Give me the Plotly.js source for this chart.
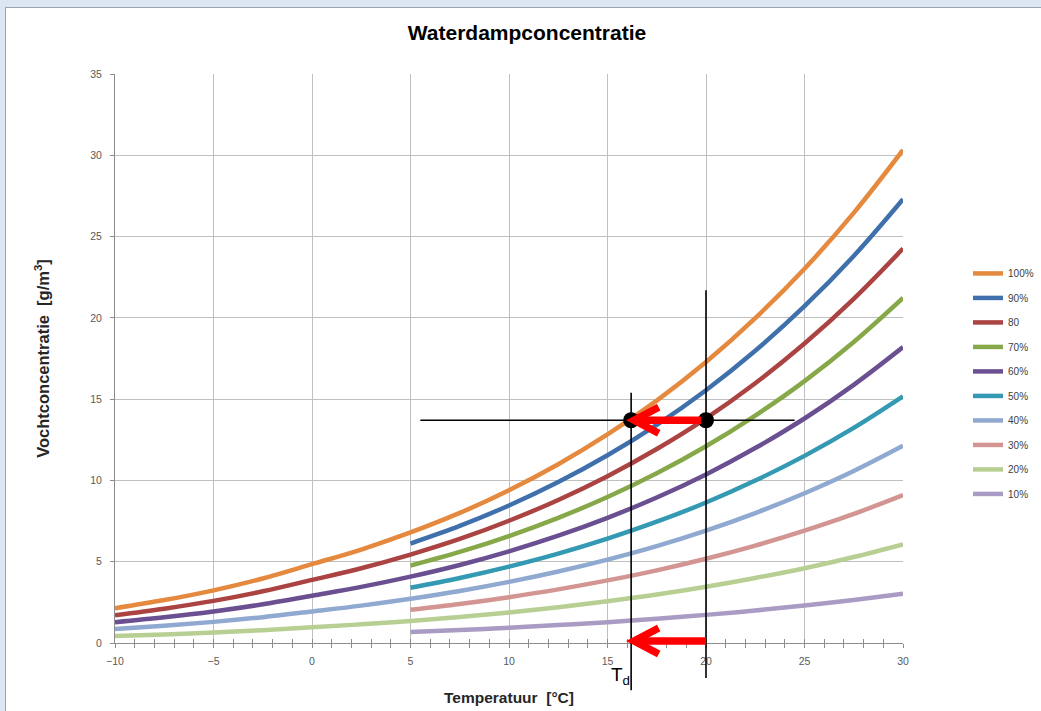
<!DOCTYPE html>
<html>
<head>
<meta charset="utf-8">
<script src="https://cdn.plot.ly/plotly-3.0.1.min.js"></script>
<style>
  html, body { margin: 0; padding: 0; overflow: hidden; background: #DCE6F2; }
  #frame { position: absolute; left: 5px; top: 7px; width: 1035px; height: 703px;
           border-left: 1px solid #9DA4AD; border-top: 1px solid #9DA4AD; background: #fff; }
  #chart { width: 1035px; height: 703px; }
</style>
</head>
<body>
<div id="frame"><div id="chart"></div></div>
<script>
// Temperatures (°C)
const tempFull = [-10, -7.5, -5, -2.5, 0, 2.5, 5, 7.5, 10, 12.5, 15, 17.5, 20, 22.5, 25, 27.5, 30];
const tempHalf = [5, 7.5, 10, 12.5, 15, 17.5, 20, 22.5, 25, 27.5, 30];

// Vochtconcentratie (g/m3) per relatieve vochtigheid
const rh100 = [2.14, 2.64, 3.24, 3.97, 4.85, 5.75, 6.80, 8.00, 9.40, 11.00, 12.83, 14.91, 17.28, 19.98, 23.02, 26.46, 30.33];
const rh90  = [6.12, 7.20, 8.46, 9.90, 11.55, 13.42, 15.55, 17.98, 20.72, 23.81, 27.30];
const rh80  = [1.71, 2.11, 2.59, 3.18, 3.88, 4.60, 5.44, 6.40, 7.52, 8.80, 10.26, 11.93, 13.82, 15.98, 18.42, 21.17, 24.26];
const rh70  = [4.76, 5.60, 6.58, 7.70, 8.98, 10.44, 12.10, 13.99, 16.11, 18.52, 21.23];
const rh60  = [1.28, 1.58, 1.94, 2.38, 2.91, 3.45, 4.08, 4.80, 5.64, 6.60, 7.70, 8.95, 10.37, 11.99, 13.81, 15.88, 18.20];
const rh50  = [3.40, 4.00, 4.70, 5.50, 6.42, 7.46, 8.64, 9.99, 11.51, 13.23, 15.17];
const rh40  = [0.86, 1.06, 1.30, 1.59, 1.94, 2.30, 2.72, 3.20, 3.76, 4.40, 5.13, 5.96, 6.91, 7.99, 9.21, 10.58, 12.13];
const rh30  = [2.04, 2.40, 2.82, 3.30, 3.85, 4.47, 5.18, 5.99, 6.91, 7.94, 9.10];
const rh20  = [0.43, 0.53, 0.65, 0.79, 0.97, 1.15, 1.36, 1.60, 1.88, 2.20, 2.57, 2.98, 3.46, 4.00, 4.60, 5.29, 6.07];
const rh10  = [0.68, 0.80, 0.94, 1.10, 1.28, 1.49, 1.73, 2.00, 2.30, 2.65, 3.03];

const seriesNames = ['100%', '90%', '80', '70%', '60%', '50%', '40%', '30%', '20%', '10%'];
const seriesX = [tempFull, tempHalf, tempFull, tempHalf, tempFull, tempHalf, tempFull, tempHalf, tempFull, tempHalf];
const seriesY = [rh100, rh90, rh80, rh70, rh60, rh50, rh40, rh30, rh20, rh10];
const seriesColors = ['#E4893D', '#3F70AB', '#AA4341', '#86A849', '#6A5090', '#3499B2', '#8FA9D0', '#D39592', '#B7CF92', '#A99BC3'];

// Dauwpuntbepaling
const airTemp = 20;        // °C
const dewPoint = 16.2;     // °C  (T_d)
const vaporConc = 13.7;    // g/m3
const yMax = 35;

const traces = seriesNames.map((name, i) => ({
  type: 'scatter', mode: 'lines', name: name,
  x: seriesX[i], y: seriesY[i],
  line: { color: seriesColors[i], width: 4.5, shape: 'spline', smoothing: 1 },
  legendgroup: 'g' + i,
  hoverinfo: 'skip'
}));

traces.push({
  type: 'scatter', mode: 'markers', x: [dewPoint, airTemp], y: [vaporConc, vaporConc],
  marker: { color: '#000', size: 16 }, showlegend: false, hoverinfo: 'skip', cliponaxis: false
});

const p = v => v / yMax; // data value -> paper fraction
const red = '#FF0000';
const shapes = [
  // crosshair lines
  { type: 'line', xref: 'x', yref: 'y', x0: 5.5, x1: 24.5, y0: vaporConc, y1: vaporConc, line: { color: '#000', width: 1.6 }, layer: 'above' },
  { type: 'line', xref: 'x', yref: 'paper', x0: airTemp, x1: airTemp, y0: p(21.7), y1: p(-2.15), line: { color: '#000', width: 1.6 }, layer: 'above' },
  { type: 'line', xref: 'x', yref: 'paper', x0: dewPoint, x1: dewPoint, y0: p(15.4), y1: p(-2.9), line: { color: '#000', width: 1.6 }, layer: 'above' },
  // red arrow (top)
  { type: 'line', xref: 'x', yref: 'y', x0: airTemp - 0.25, x1: dewPoint + 0.25, y0: vaporConc, y1: vaporConc, line: { color: red, width: 7.5 }, layer: 'above' },
  { type: 'path', xref: 'x', yref: 'y', path: `M${dewPoint + 1.4},${vaporConc + 0.8} L${dewPoint + 0.15},${vaporConc} L${dewPoint + 1.4},${vaporConc - 0.8}`, line: { color: red, width: 7.5 }, layer: 'above' },
  // red arrow (bottom, along the axis)
  { type: 'line', xref: 'x', yref: 'paper', x0: airTemp, x1: dewPoint + 0.25, y0: p(0.12), y1: p(0.12), line: { color: red, width: 7.5 }, layer: 'above' },
  { type: 'path', xref: 'x', yref: 'paper', path: `M${dewPoint + 1.4},${p(0.92)} L${dewPoint + 0.15},${p(0.12)} L${dewPoint + 1.4},${p(-0.68)}`, line: { color: red, width: 7.5 }, layer: 'above' }
];

const tickFont = { family: 'Liberation Sans, Arial, sans-serif', size: 10.5, color: '#595959' };
const titleFont = { family: 'Liberation Sans, Arial, sans-serif', size: 15.5, color: '#262626', weight: 'bold' };
const yTitleFont = { family: 'Liberation Sans, Arial, sans-serif', size: 16.5, color: '#262626', weight: 'bold' };

const layout = {
  width: 1035, height: 703,
  margin: { l: 109, r: 138, t: 66, b: 68, autoexpand: false },
  paper_bgcolor: '#FFFFFF', plot_bgcolor: '#FFFFFF',
  title: { text: '<b>Waterdampconcentratie</b>', x: 0.5034, xanchor: 'center', y: 0.9644, yanchor: 'middle',
           font: { family: 'Liberation Sans, Arial, sans-serif', size: 21, color: '#000' } },
  showlegend: true,
  legend: { x: 1.0825, xanchor: 'left', y: 0.675, yanchor: 'top', tracegroupgap: 5.5,
            font: { family: 'Liberation Sans, Arial, sans-serif', size: 10, color: '#404040' },
            bgcolor: 'rgba(0,0,0,0)', itemwidth: 30 },
  xaxis: {
    range: [-10, 30], tickmode: 'linear', tick0: -10, dtick: 5,
    showgrid: true, gridcolor: '#BFBFBF', gridwidth: 1,
    showline: true, linecolor: '#8C8C8C', linewidth: 1,
    ticks: 'outside', ticklen: 4, tickcolor: '#8C8C8C', ticklabelstandoff: 4,
    minor: { dtick: 1, ticks: 'outside', ticklen: 4, tickcolor: '#8C8C8C', showgrid: false },
    zeroline: false, tickfont: tickFont,
    title: { text: 'Temperatuur  [°C]', font: titleFont, standoff: 26 }
  },
  xaxis2: {
    overlaying: 'x', matches: 'x', anchor: 'y', side: 'bottom', range: [-10, 30], tickmode: 'linear', tick0: -10, dtick: 5,
    showgrid: false, zeroline: false, showline: false, showticklabels: false,
    ticks: 'inside', ticklen: 4, tickcolor: '#8C8C8C',
    minor: { dtick: 1, ticks: 'inside', ticklen: 4, tickcolor: '#8C8C8C', showgrid: false }
  },
  yaxis: {
    range: [0, 35], tickmode: 'linear', tick0: 0, dtick: 5,
    showgrid: true, gridcolor: '#BFBFBF', gridwidth: 1,
    showline: true, linecolor: '#8C8C8C', linewidth: 1,
    ticks: 'outside', ticklen: 4, tickcolor: '#8C8C8C', ticklabelstandoff: 6,
    zeroline: false, tickfont: tickFont,
    title: { text: 'Vochtconcentratie  [g/m<sup>3</sup>]', font: yTitleFont, standoff: 36 }
  },
  shapes: shapes,
  annotations: [
    { xref: 'x', yref: 'paper', x: dewPoint, y: p(-2.0), text: 'T<sub>d</sub>', showarrow: false,
      xanchor: 'right', yanchor: 'middle', xshift: 1,
      font: { family: 'Liberation Sans, Arial, sans-serif', size: 19, color: '#000' } }
  ]
};

traces.push({ type: 'scatter', x: [-10], y: [0], xaxis: 'x2', yaxis: 'y', mode: 'none', showlegend: false, hoverinfo: 'skip' });

Plotly.newPlot('chart', traces, layout, { displayModeBar: false, staticPlot: true });
</script>
</body>
</html>
